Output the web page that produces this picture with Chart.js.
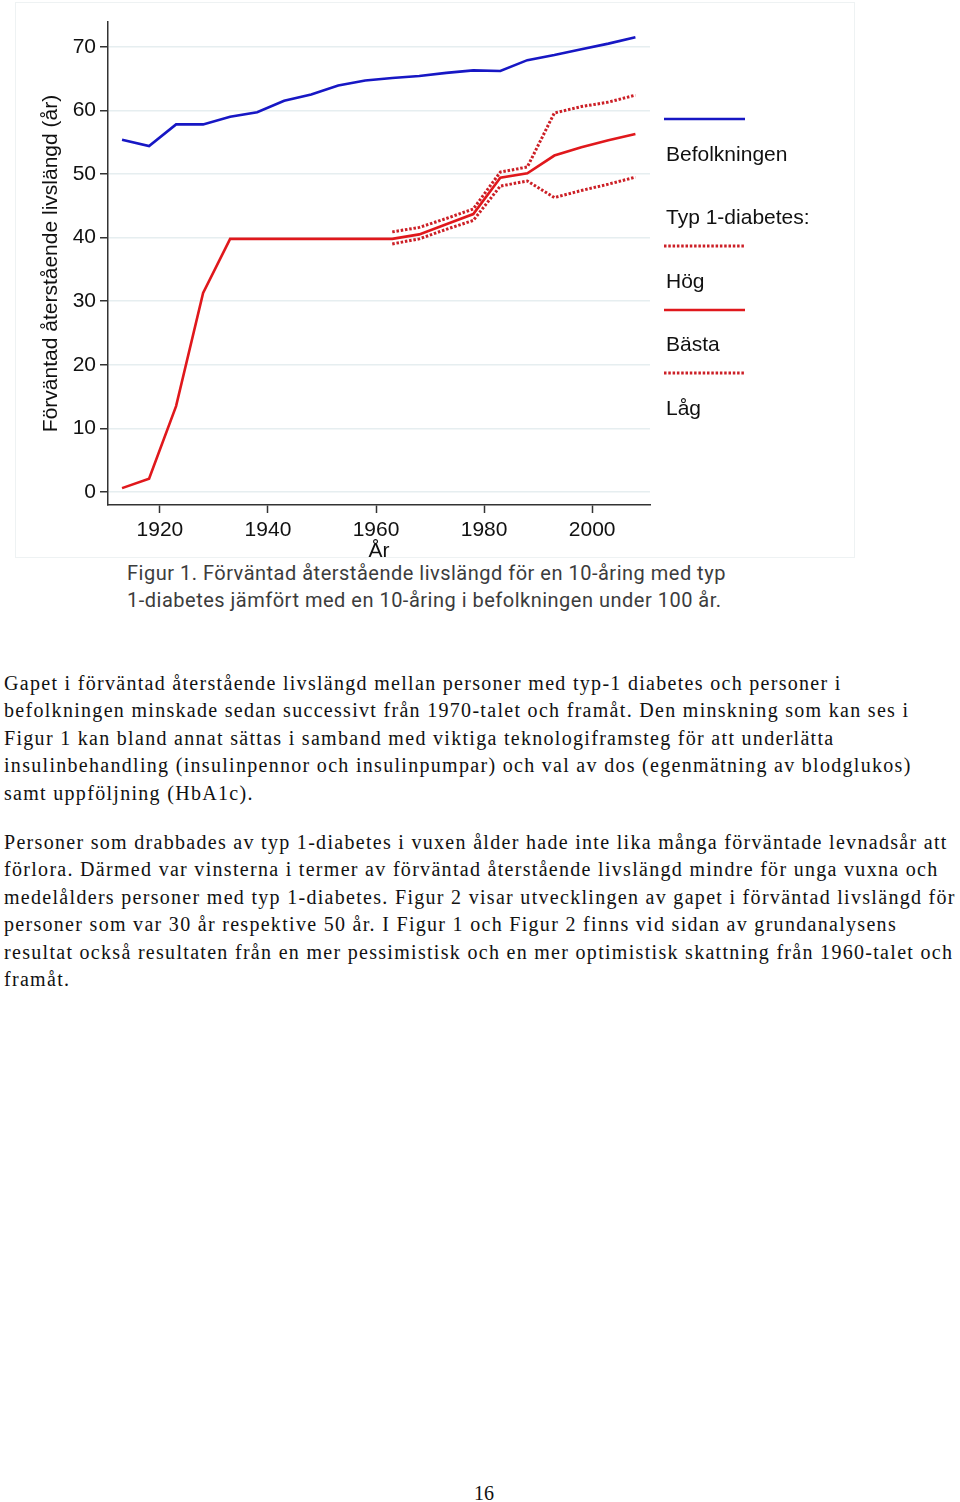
<!DOCTYPE html>
<html lang="sv">
<head>
<meta charset="utf-8">
<script src="https://cdn.jsdelivr.net/npm/chart.js@4.4.1/dist/chart.umd.min.js"></script>
<style>
  html, body { margin: 0; padding: 0; background: #fff; }
  body { width: 960px; height: 1502px; position: relative; overflow: hidden; }
  .chartBox {
    position: absolute; left: 15px; top: 2px;
    width: 838px; height: 554px;
    border: 1px solid #eef2f3;
  }
  .caption {
    position: absolute; left: 127px; top: 560px;
    font-family: Roboto, "DejaVu Sans", sans-serif;
    font-size: 20px; line-height: 27px; color: #3c3c3c;
    letter-spacing: 0.5px;
    white-space: nowrap;
  }
  .para {
    position: absolute; left: 4px;
    font-family: "Liberation Serif", "DejaVu Serif", serif;
    font-size: 20px; line-height: 27.4px; color: #111;
    letter-spacing: 1.3px;
    white-space: nowrap;
  }
  .pageNo {
    position: absolute; left: 0; width: 968px; top: 1482px; text-align: center;
    font-family: "Liberation Serif", serif; font-size: 20px; color: #111;
  }
</style>
</head>
<body>

<div class="chartBox"><canvas id="chart"></canvas></div>

<div class="caption">
  Figur 1. Förväntad återstående livslängd för en 10-åring med typ<br>
  1-diabetes jämfört med en 10-åring i befolkningen under 100 år.
</div>

<div class="para" style="top:670px">
  Gapet i förväntad återstående livslängd mellan personer med typ-1 diabetes och personer i<br>
  befolkningen minskade sedan successivt från 1970-talet och framåt. Den minskning som kan ses i<br>
  Figur 1 kan bland annat sättas i samband med viktiga teknologiframsteg för att underlätta<br>
  insulinbehandling (insulinpennor och insulinpumpar) och val av dos (egenmätning av blodglukos)<br>
  samt uppföljning (HbA1c).
</div>

<div class="para" style="top:829px">
  Personer som drabbades av typ 1-diabetes i vuxen ålder hade inte lika många förväntade levnadsår att<br>
  förlora. Därmed var vinsterna i termer av förväntad återstående livslängd mindre för unga vuxna och<br>
  medelålders personer med typ 1-diabetes. Figur 2 visar utvecklingen av gapet i förväntad livslängd för<br>
  personer som var 30 år respektive 50 år. I Figur 1 och Figur 2 finns vid sidan av grundanalysens<br>
  resultat också resultaten från en mer pessimistisk och en mer optimistisk skattning från 1960-talet och<br>
  framåt.
</div>

<div class="pageNo">16</div>

<script>
// Data
const years = [1913, 1918, 1923, 1928, 1933, 1938, 1943, 1948, 1953, 1958,
               1963, 1968, 1973, 1978, 1983, 1988, 1993, 1998, 2003, 2008];
const befolkningen = [55.4, 54.4, 57.8, 57.8, 59.0, 59.7, 61.5, 62.5, 63.9, 64.7,
                      65.1, 65.4, 65.9, 66.3, 66.2, 67.9, 68.7, 69.6, 70.5, 71.5];
const hog = [null, null, null, null, null, null, null, null, null, null,
             40.9, 41.6, 43.0, 44.5, 50.3, 51.1, 59.6, 60.6, 61.3, 62.4];
const basta = [0.6, 2.1, 13.5, 31.3, 39.8, 39.8, 39.8, 39.8, 39.8, 39.8,
               39.8, 40.5, 42.1, 43.7, 49.4, 50.1, 52.9, 54.2, 55.3, 56.3];
const lag = [null, null, null, null, null, null, null, null, null, null,
             39.0, 39.8, 41.3, 42.7, 48.1, 48.9, 46.3, 47.4, 48.4, 49.5];
const xTicks = [1920, 1940, 1960, 1980, 2000];
const yTicks = [0, 10, 20, 30, 40, 50, 60, 70];

const BLUE = '#1717c4';
const RED = '#e0181c';
const DOTRED = '#cc1f26';
const FONT = '"Liberation Sans", Arial, sans-serif';

const toPoints = (arr) => years.map((x, i) => ({ x: x, y: arr[i] }));

// legend drawn to the right, line sample above each label (Stata style)
const sideLegend = {
  id: 'sideLegend',
  afterDraw(chart) {
    const ctx = chart.ctx;
    const x0 = chart.chartArea.right + 14;
    const ds = chart.data.datasets;
    const rows = [
      { line: 0, y: 116 },
      { text: ds[0].label, y: 152 },
      { text: 'Typ 1-diabetes:', y: 215 },
      { line: 1, y: 243 },
      { text: ds[1].label, y: 279 },
      { line: 2, y: 307 },
      { text: ds[2].label, y: 342 },
      { line: 3, y: 370 },
      { text: ds[3].label, y: 406 }
    ];
    ctx.save();
    rows.forEach(r => {
      if (r.line !== undefined) {
        const d = ds[r.line];
        ctx.beginPath();
        ctx.strokeStyle = d.borderColor;
        ctx.lineWidth = d.borderWidth;
        ctx.setLineDash(d.borderDash || []);
        ctx.moveTo(x0, r.y);
        ctx.lineTo(x0 + 81, r.y);
        ctx.stroke();
      } else {
        ctx.setLineDash([]);
        ctx.fillStyle = '#111';
        ctx.font = '21px ' + FONT;
        ctx.textBaseline = 'middle';
        ctx.textAlign = 'left';
        ctx.fillText(r.text, x0 + 2, r.y);
      }
    });
    ctx.restore();
  }
};

new Chart(document.getElementById('chart'), {
  type: 'line',
  data: {
    datasets: [
      { label: 'Befolkningen', data: toPoints(befolkningen), borderColor: BLUE, borderWidth: 2.6 },
      { label: 'Hög', data: toPoints(hog), borderColor: DOTRED, borderWidth: 3, borderDash: [2.5, 1.8] },
      { label: 'Bästa', data: toPoints(basta), borderColor: RED, borderWidth: 2.6 },
      { label: 'Låg', data: toPoints(lag), borderColor: DOTRED, borderWidth: 3, borderDash: [2.5, 1.8] }
    ]
  },
  options: {
    responsive: true,
    maintainAspectRatio: false,
    animation: false,
    events: [],
    elements: { point: { radius: 0 }, line: { tension: 0, borderCapStyle: 'butt' } },
    layout: { padding: { top: 19, right: 204, left: 0, bottom: 0 } },
    plugins: { legend: { display: false }, tooltip: { enabled: false } },
    scales: {
      x: {
        type: 'linear',
        min: 1910.4,
        max: 2010.7,
        afterBuildTicks: (scale) => { scale.ticks = xTicks.map(v => ({ value: v })); },
        afterFit: (scale) => { scale.height = 52; },
        ticks: { color: '#111', font: { family: FONT, size: 21 }, padding: 5, maxRotation: 0,
                 callback: (v) => String(v) },
        grid: { drawOnChartArea: false, tickLength: 8, tickColor: '#333', tickWidth: 1.5 },
        border: { color: '#333', width: 1.5 },
        title: { display: true, text: 'År', color: '#111', font: { family: FONT, size: 21 },
                 padding: { top: 0, bottom: -7 } }
      },
      y: {
        min: -2.05,
        max: 73.9,
        afterBuildTicks: (scale) => { scale.ticks = yTicks.map(v => ({ value: v })); },
        afterFit: (scale) => { scale.width = 92; },
        ticks: { color: '#111', font: { family: FONT, size: 21 }, padding: 4 },
        grid: { color: '#e6eef0', lineWidth: 1.5, tickLength: 8, tickColor: '#333', tickWidth: 1.5 },
        border: { color: '#333', width: 1.5 },
        title: { display: true, text: 'Förväntad återstående livslängd (år)', color: '#111',
                 font: { family: FONT, size: 21 }, padding: { top: 23, bottom: 0 } }
      }
    }
  },
  plugins: [sideLegend]
});
</script>
</body>
</html>
